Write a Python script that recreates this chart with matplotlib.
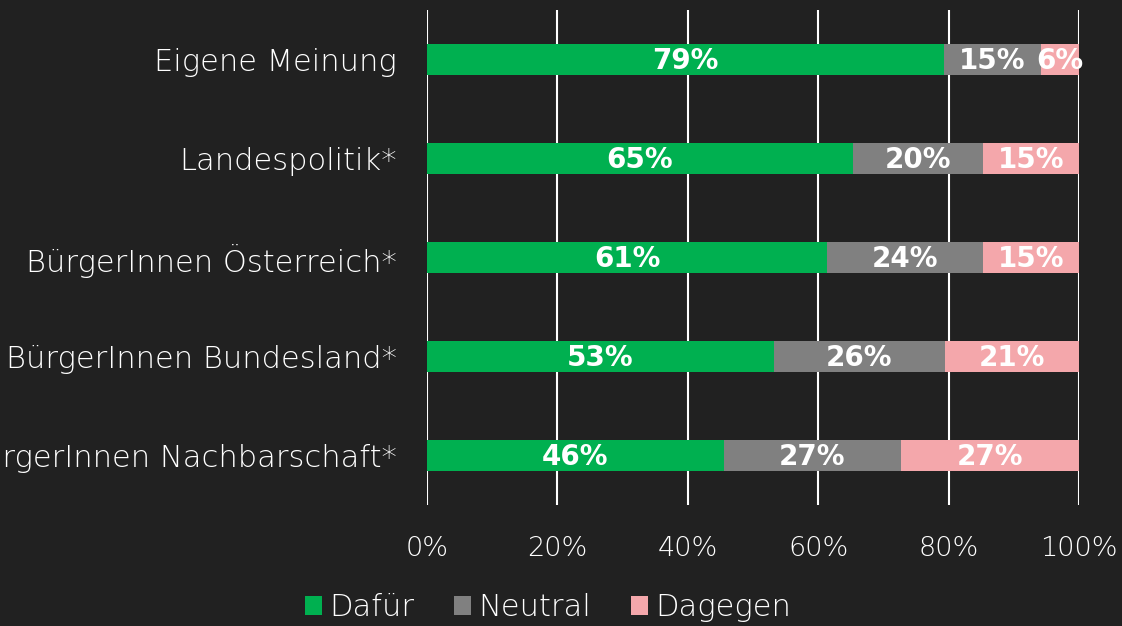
import matplotlib
matplotlib.use("Agg")
import matplotlib.pyplot as plt
from matplotlib.patches import Patch

categories = ["Eigene Meinung", "Landespolitik*", "BürgerInnen Österreich*",
              "BürgerInnen Bundesland*", "BürgerInnen Nachbarschaft*"]
dafuer = [79.3, 65.3, 61.4, 53.2, 45.5]
neutral = [14.9, 20.0, 23.9, 26.2, 27.2]
dagegen = [5.8, 14.7, 14.7, 20.6, 27.3]
series_names = ["Dafür", "Neutral", "Dagegen"]
colors = ["#00B050", "#808080", "#F4A7AB"]
xticks = [0, 20, 40, 60, 80, 100]

BG = "#212121"
plt.rcParams['font.family'] = ['DejaVu Sans']
plt.rcParams['font.weight'] = 'light'

fig = plt.figure(figsize=(11.22, 6.26), dpi=100, facecolor=BG)
ax = fig.add_axes([427/1122, 1-505/626, 652/1122, 495/626])
ax.set_facecolor(BG)

ypos = list(range(len(categories)))
left = [0]*len(categories)
for name, vals, col in zip(series_names, [dafuer, neutral, dagegen], colors):
    ax.barh(ypos, vals, left=left, height=0.31, color=col, label=name, zorder=3)
    for y, l, v in zip(ypos, left, vals):
        ax.text(l + v/2, y + 0.02, f"{round(v)}%", ha="center", va="center",
                color="white", fontsize=20, fontweight="bold", zorder=4)
    left = [a + b for a, b in zip(left, vals)]

ax.set_xlim(0, 100)
ax.set_ylim(len(categories)-0.5, -0.5)
ax.set_xticks(xticks)
ax.set_xticklabels([f"{t}%" for t in xticks], color="white", fontsize=19.5)
ax.set_yticks(ypos)
ax.set_yticklabels(categories, color="white", fontsize=22)
ax.tick_params(axis="both", length=0)
ax.tick_params(axis="y", pad=21.5)
ax.tick_params(axis="x", pad=22)
for s in ax.spines.values():
    s.set_visible(False)
ax.grid(axis="x", color="white", linewidth=1.5, zorder=1)
ax.set_axisbelow(True)

handles = [Patch(facecolor=c, label=n) for n, c in zip(series_names, colors)]
fig.legend(handles=handles, loc="center", bbox_to_anchor=(548/1122, 1-608/626),
           ncol=3, frameon=False, fontsize=22, labelcolor="white",
           handlelength=0.55, handleheight=0.55, handletextpad=0.25, columnspacing=1.3)

fig.savefig("out.png", dpi=100, facecolor=BG)
